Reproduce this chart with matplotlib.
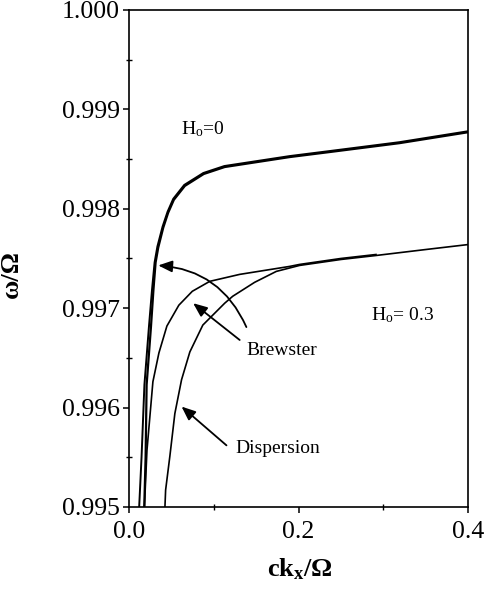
import matplotlib
matplotlib.use("Agg")
import matplotlib.pyplot as plt
from matplotlib.ticker import MultipleLocator, FormatStrFormatter

plt.rcParams["font.family"] = ["Liberation Serif", "DejaVu Serif"]
plt.rcParams["mathtext.fontset"] = "custom"
plt.rcParams["mathtext.rm"] = "Liberation Serif"
plt.rcParams["mathtext.it"] = "Liberation Serif:italic"
plt.rcParams["mathtext.bf"] = "Liberation Serif:bold"

# H_o = 0: dispersion curve and Brewster curve (they run together above ~0.9976)
k0_disp = [0.0180, 0.0196, 0.0208, 0.0259, 0.0288, 0.0314, 0.0345, 0.0404, 0.0462,
           0.0529, 0.0659, 0.0882, 0.1129, 0.1894, 0.2360, 0.3190, 0.4000]
w0_disp = [0.99500, 0.99550, 0.99623, 0.99681, 0.99718, 0.99746, 0.99761, 0.99781, 0.99796,
           0.99809, 0.99823, 0.99835, 0.99842, 0.99852, 0.99857, 0.99866, 0.99877]

k0_brew = [0.0120, 0.0148, 0.0182, 0.0235, 0.0271, 0.0302, 0.0335, 0.0396, 0.0455,
           0.0522, 0.0652, 0.0877, 0.1125, 0.1894, 0.2360, 0.3190, 0.4000]
w0_brew = [0.99500, 0.99550, 0.99623, 0.99681, 0.99718, 0.99746, 0.99762, 0.99782, 0.99797,
           0.99810, 0.99824, 0.99836, 0.99843, 0.99853, 0.99858, 0.99867, 0.99878]

# H_o = 0.3: Brewster curve and dispersion curve
k3_brew = [0.0182, 0.0212, 0.0282, 0.0353, 0.0447, 0.0588, 0.0747, 0.0953, 0.1306,
           0.1894, 0.2012, 0.2500, 0.2914]
w3_brew = [0.99500, 0.99557, 0.99626, 0.99655, 0.99682, 0.99703, 0.99717, 0.99727, 0.99734,
           0.99742, 0.99744, 0.99750, 0.99754]

k3_disp = [0.0424, 0.0432, 0.0482, 0.0541, 0.0620, 0.0718, 0.0871, 0.1129, 0.1224,
           0.1482, 0.1738, 0.2012, 0.2500, 0.2914, 0.3500, 0.4000]
w3_disp = [0.99500, 0.99517, 0.99551, 0.99594, 0.99628, 0.99656, 0.99683, 0.99705, 0.99712,
           0.99726, 0.99737, 0.99743, 0.99749, 0.99753, 0.99759, 0.99764]

x_ticks = [0.0, 0.2, 0.4]
y_ticks = [0.995, 0.996, 0.997, 0.998, 0.999, 1.000]

fig = plt.figure(figsize=(4.89, 5.94), dpi=100)
ax = fig.add_axes([0.2638, 0.1465, 0.6933, 0.8367])

ax.plot(k0_disp, w0_disp, color="black", lw=1.6)
ax.plot(k0_brew, w0_brew, color="black", lw=1.4)
ax.plot(k3_brew, w3_brew, color="black", lw=1.2)
ax.plot(k3_disp, w3_disp, color="black", lw=1.2)

ax.set_xlim(0.0, 0.4)
ax.set_ylim(0.995, 1.000)
ax.set_xticks(x_ticks)
ax.set_yticks(y_ticks)
ax.xaxis.set_minor_locator(MultipleLocator(0.1))
ax.yaxis.set_minor_locator(MultipleLocator(0.0005))
ax.xaxis.set_major_formatter(FormatStrFormatter("%.1f"))
ax.yaxis.set_major_formatter(FormatStrFormatter("%.3f"))
ax.tick_params(which="major", direction="out", length=4, width=1.1, labelsize=18.5, pad=2.5)
ax.tick_params(axis="x", which="major", pad=6)
ax.tick_params(which="minor", direction="inout", length=4, width=1.0)
for s in ax.spines.values():
    s.set_linewidth(1.2)

ax.set_xlabel("ck$_\\mathbf{x}$/Ω", fontsize=19, fontweight="bold")
ax.set_ylabel("ω/Ω", fontsize=19, fontweight="bold")
ax.xaxis.set_label_coords(0.504, -0.10)
ax.yaxis.set_label_coords(-0.313, 0.469)

ax.text(0.061, 0.998753, "H$_\\mathrm{o}$=0", fontsize=14, ha="left", va="baseline")
ax.text(0.2855, 0.996881, "H$_\\mathrm{o}$= 0.3", fontsize=14, ha="left", va="baseline")
ax.text(0.1388, 0.996529, "Brewster", fontsize=14, ha="left", va="baseline")
ax.text(0.1259, 0.995546, "Dispersion", fontsize=14, ha="left", va="baseline")

arrow = dict(arrowstyle="-|>,head_length=0.6,head_width=0.25", mutation_scale=14,
             color="black", lw=1.3, shrinkA=0, shrinkB=0)
ax.annotate("", xy=(0.0345, 0.99743), xytext=(0.1385, 0.99681),
            arrowprops=dict(arrow, connectionstyle="arc3,rad=0.3"))
ax.annotate("", xy=(0.0757, 0.99705), xytext=(0.1306, 0.99668), arrowprops=arrow)
ax.annotate("", xy=(0.0620, 0.99601), xytext=(0.1150, 0.99562), arrowprops=arrow)

fig.savefig("out.png", dpi=100)
